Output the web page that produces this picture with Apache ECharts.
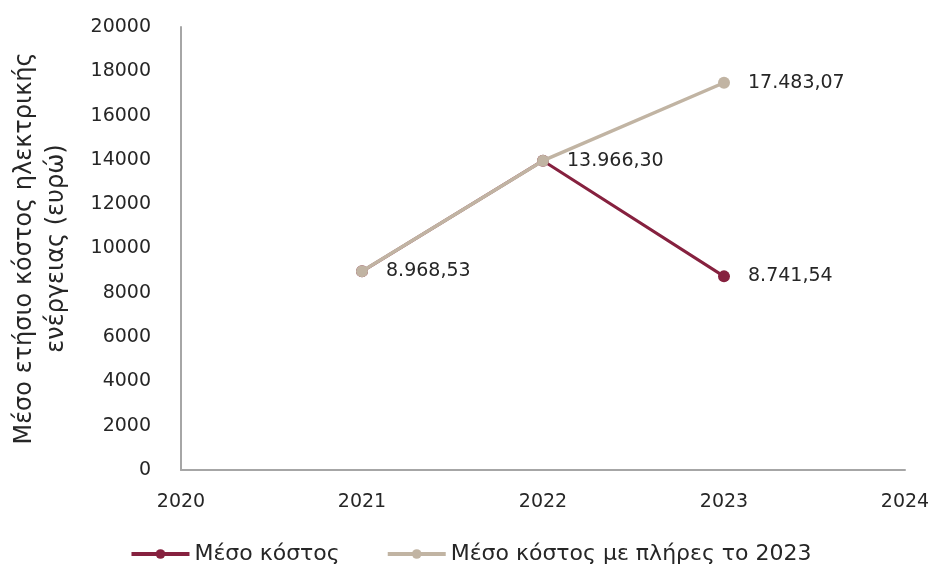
<!DOCTYPE html>
<html>
<head>
<meta charset="utf-8">
<script src="https://cdn.jsdelivr.net/npm/echarts@6/dist/echarts.min.js"></script>
<style>
  html, body { margin: 0; padding: 0; background: #fff; }
  #chart { width: 941px; height: 572px; }
</style>
</head>
<body>
<div id="chart"></div>
<script>
//---------------------------Data---------------------------
let years = [2021, 2022, 2023];
let avgCost = [8968.53, 13966.30, 8741.54];
let fullCost = [8968.53, 13966.30, 17483.07];
let seriesNames = ['Μέσο κόστος', 'Μέσο κόστος με πλήρες το 2023'];
// which points carry a value label
let avgLabelShown = [false, false, true];
let fullLabelShown = [true, true, true];

//---------------------------UI---------------------------
let chart = echarts.init(document.getElementById('chart'));
let font = '"DejaVu Sans", sans-serif';
let textColor = '#262626';

//greek number format: 17.483,07
function fmt(v) {
    let parts = v.toFixed(2).split('.');
    return parts[0].replace(/\B(?=(\d{3})+(?!\d))/g, '.') + ',' + parts[1];
}

function pairs(values) {
    let out = [];
    for (let i = 0; i < years.length; i++) {
        out.push([years[i], values[i]]);
    }
    return out;
}

let option = {
    animation: false,
    textStyle: { fontFamily: font },
    grid: { left: 181, right: 36, top: 27, bottom: 102 },
    legend: {
        bottom: 2,
        left: 'center',
        itemWidth: 58,
        itemHeight: 12,
        itemGap: 46,
        lineStyle: { width: 4 },
        textStyle: { fontSize: 22, color: textColor, fontFamily: font },
        data: seriesNames
    },
    xAxis: {
        type: 'value',
        min: 2020,
        max: 2024,
        interval: 1,
        axisLine: { show: true, lineStyle: { color: '#a6a6a6', width: 2 } },
        axisTick: { show: false },
        splitLine: { show: false },
        axisLabel: { margin: 23, fontSize: 19, color: textColor, formatter: v => String(v) }
    },
    yAxis: {
        type: 'value',
        min: 0,
        max: 20000,
        interval: 2000,
        name: 'Μέσο ετήσιο κόστος ηλεκτρικής\nενέργειας (ευρώ)',
        nameLocation: 'middle',
        nameGap: 108,
        nameRotate: 90,
        nameTextStyle: { fontSize: 24, color: textColor, lineHeight: 32 },
        axisLine: { show: true, lineStyle: { color: '#a6a6a6', width: 2 } },
        axisTick: { show: false },
        splitLine: { show: false },
        axisLabel: { margin: 30, fontSize: 19, color: textColor, formatter: v => String(v) }
    },
    series: [
        {
            name: seriesNames[0],
            type: 'line',
            data: pairs(avgCost),
            symbol: 'circle',
            symbolSize: 12,
            z: 2,
            itemStyle: { color: '#86213f' },
            lineStyle: { color: '#86213f', width: 3 },
            label: {
                show: true,
                position: 'right',
                distance: 18,
                fontSize: 19,
                color: textColor,
                formatter: p => avgLabelShown[p.dataIndex] ? fmt(p.value[1]) : ''
            }
        },
        {
            name: seriesNames[1],
            type: 'line',
            data: pairs(fullCost),
            symbol: 'circle',
            symbolSize: 12,
            z: 3,
            itemStyle: { color: '#c1b4a3' },
            lineStyle: { color: '#c1b4a3', width: 3.5 },
            label: {
                show: true,
                position: 'right',
                distance: 18,
                fontSize: 19,
                color: textColor,
                formatter: p => fullLabelShown[p.dataIndex] ? fmt(p.value[1]) : ''
            }
        }
    ]
};

chart.setOption(option);
</script>
</body>
</html>
